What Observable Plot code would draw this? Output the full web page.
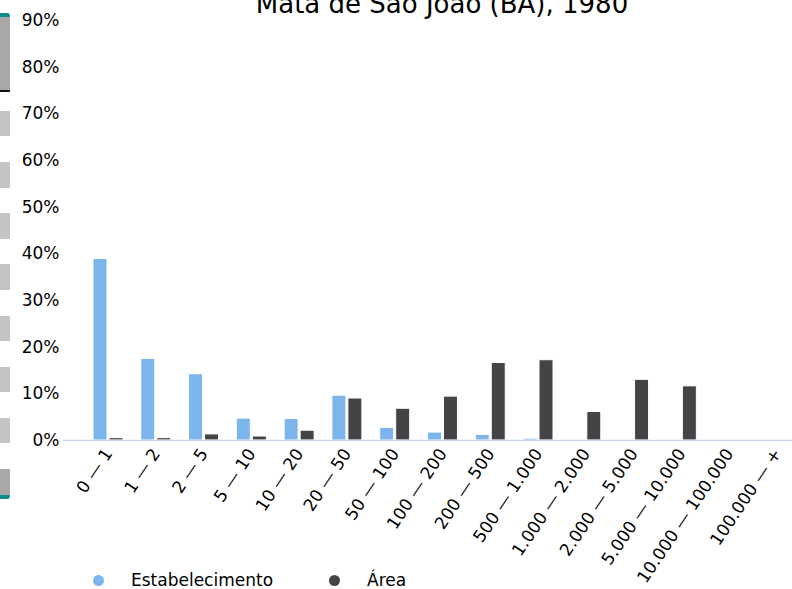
<!DOCTYPE html>
<html>
<head>
<meta charset="utf-8">
<script src="https://cdn.jsdelivr.net/npm/d3@7"></script>
<script src="https://cdn.jsdelivr.net/npm/@observablehq/plot@0.6"></script>
<style>
  html, body { margin: 0; padding: 0; background: #fff; }
  #wrap { position: relative; width: 792px; height: 589px; overflow: hidden; font-family: "DejaVu Sans", sans-serif; }
  #title { position: absolute; left: 0; width: 884px; top: -9px; text-align: center; font-size: 26px; line-height: 26px; color: #000; white-space: nowrap; }
  #legend { position: absolute; left: 0; top: 570px; height: 20px; font-size: 17px; color: #000; }
  .item { position: absolute; top: 0; white-space: nowrap; line-height: 20px; }
  .sw { position: absolute; width: 11px; height: 11px; border-radius: 50%; top: 5px; }
  .deco { position: absolute; left: 0; width: 10px; }
  #chart { position: absolute; left: 0; top: 0; }
</style>
</head>
<body>
<div id="wrap">
  <div id="deco"></div>
  <div id="chart"></div>
  <div id="title"></div>
  <div id="legend"></div>
</div>
<script>
const title = "Mata de São João (BA), 1980";
const categories = ["0 — 1","1 — 2","2 — 5","5 — 10","10 — 20","20 — 50","50 — 100","100 — 200","200 — 500","500 — 1.000","1.000 — 2.000","2.000 — 5.000","5.000 — 10.000","10.000 — 100.000","100.000 — +"];
const estabelecimento = [38.9, 17.5, 14.2, 4.7, 4.6, 9.6, 2.7, 1.7, 1.2, 0.4, 0, 0, 0, 0, 0];
const area = [0.5, 0.5, 1.3, 0.85, 2.1, 9.0, 6.8, 9.4, 16.6, 17.2, 6.1, 13.0, 11.6, 0, 0];
const yTicks = [0, 10, 20, 30, 40, 50, 60, 70, 80, 90];
const seriesNames = ["Estabelecimento", "Área"];
const seriesColors = ["#7cb5ec", "#434348"];

const table = categories.map((c, i) => ({cat: c, est: estabelecimento[i], area: area[i]}));

const chart = Plot.plot({
  width: 792,
  height: 589,
  marginTop: 20,
  marginBottom: 149,
  marginLeft: 63,
  marginRight: 0,
  style: {fontFamily: "DejaVu Sans, sans-serif", fontSize: "17px", color: "#000", background: "transparent", overflow: "visible"},
  x: {domain: categories, range: [84.1, 800.8], padding: 0, round: false, label: null, tickSize: 0, tickRotate: -56, tickPadding: 10},
  y: {domain: [0, 90], ticks: yTicks, tickFormat: d => d + "%", label: null, tickSize: 0, tickPadding: 4},
  marks: [
    Plot.barY(table, {x: "cat", y: "est", fill: seriesColors[0], stroke: "#fff", strokeWidth: 1, insetLeft: 8.9, insetRight: 24.9}),
    Plot.barY(table, {x: "cat", y: "area", fill: seriesColors[1], stroke: "#fff", strokeWidth: 1, insetLeft: 24.9, insetRight: 8.9}),
    Plot.ruleY([0], {stroke: "#ccd6eb", strokeWidth: 1.5})
  ]
});
document.getElementById("chart").appendChild(chart);
document.getElementById("title").textContent = title;

const legend = document.getElementById("legend");
const legendX = [93, 329];
seriesNames.forEach((name, i) => {
  const sw = document.createElement("div");
  sw.className = "sw";
  sw.style.left = legendX[i] + "px";
  sw.style.background = seriesColors[i];
  legend.appendChild(sw);
  const t = document.createElement("div");
  t.className = "item";
  t.style.left = (legendX[i] + 38) + "px";
  t.textContent = name;
  legend.appendChild(t);
});

// decorative strip at the left edge
const deco = document.getElementById("deco");
const blocks = [
  {top: 13, h: 73, bg: "#a8a8a8", cap: "top"},
  {top: 111, h: 25, bg: "#c4c4c4"},
  {top: 162, h: 26, bg: "#c4c4c4"},
  {top: 213, h: 26, bg: "#c4c4c4"},
  {top: 264, h: 26, bg: "#c4c4c4"},
  {top: 316, h: 25, bg: "#c4c4c4"},
  {top: 367, h: 25, bg: "#c4c4c4"},
  {top: 418, h: 25, bg: "#c4c4c4"},
  {top: 469, h: 26, bg: "#a8a8a8", cap: "bottom"}
];
blocks.forEach(b => {
  const d = document.createElement("div");
  d.className = "deco";
  d.style.top = b.top + "px";
  d.style.height = b.h + "px";
  d.style.background = b.bg;
  if (b.cap === "top") { d.style.borderTop = "4px solid #0f8c8c"; d.style.borderBottom = "2px solid #111"; d.style.borderTopRightRadius = "3px"; }
  if (b.cap === "bottom") { d.style.borderBottom = "4px solid #0f8c8c"; d.style.borderBottomRightRadius = "3px"; }
  deco.appendChild(d);
});
</script>
</body>
</html>
